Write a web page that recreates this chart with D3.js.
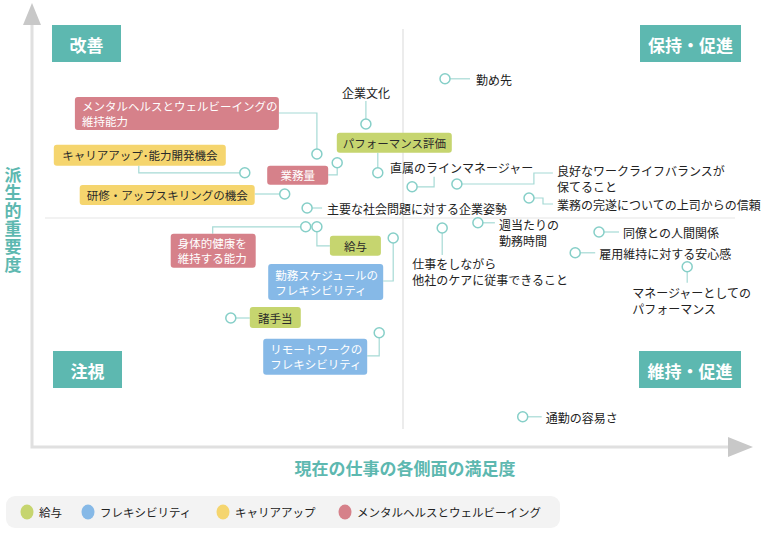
<!DOCTYPE html>
<html>
<head>
<meta charset="utf-8">
<script src="https://cdn.jsdelivr.net/npm/d3@7"></script>
<style>
body { margin: 0; background: #fff; }
text { font-family: "Noto Sans CJK JP", "Noto Sans", sans-serif; }
</style>
</head>
<body>
<div id="container"></div>
<script>
// 職場の各側面: 満足度 (x) と派生的重要度 (y)
var aspects = [
  "メンタルヘルスとウェルビーイングの\n維持能力", "業務量", "キャリアアップ･能力開発機会",
  "研修・アップスキリングの機会", "主要な社会問題に対する企業姿勢", "企業文化",
  "パフォーマンス評価", "勤め先", "直属のラインマネージャー",
  "良好なワークライフバランスが\n保てること", "業務の完遂についての上司からの信頼",
  "仕事をしながら\n他社のケアに従事できること", "週当たりの\n勤務時間", "同僚との人間関係",
  "雇用維持に対する安心感", "マネージャーとしての\nパフォーマンス", "通勤の容易さ",
  "身体的健康を\n維持する能力", "給与", "勤務スケジュールの\nフレキシビリティ",
  "諸手当", "リモートワークの\nフレキシビリティ"
];
var satisfaction = [37.7, 40.6, 27.4, 33.1, 36.3, 44.7, 46.4, 56.0, 51.3, 57.7, 68.0,
                    55.6, 60.7, 78.0, 74.6, 90.6, 67.1, 36.1, 37.7, 48.6, 25.4, 46.6];
var importance   = [66.0, 63.8, 61.3, 56.0, 52.5, 73.5, 61.3, 84.8, 57.8, 58.5, 55.0,
                    47.5, 48.8, 46.5, 41.3, 37.8, 0.3, 47.8, 47.8, 45.0, 25.0, 21.3];
// -1 = カテゴリなし
var group = [3, 3, 2, 2, -1, -1, 0, -1, -1, -1, -1, -1, -1, -1, -1, -1, -1, 3, 0, 1, 0, 1];

var groupNames = ["給与", "フレキシビリティ", "キャリアアップ", "メンタルヘルスとウェルビーイング"];
var quadrantNames = ["改善", "保持・促進", "注視", "維持・促進"];
var xTitle = "現在の仕事の各側面の満足度";
var yTitle = "派生的重要度";

// ラベルの配置 (点からの相対位置) とつなぎ線
var labelPos = [
  {dx:-242, dy:-57, w:204, h:33, path:[[-38,-41],[0,-41],[0,-5]]},
  {dx:-70, dy:3, w:61, h:19, path:[[-9,12],[0,12],[0,5]]},
  {dx:-191, dy:-28, w:172, h:21, path:[[-106,-7],[-106,0],[-5,0]]},
  {dx:-205, dy:-9, w:175, h:20, path:[[-30,0],[-5,0]]},
  {dx:20, dy:0, path:[[5,0],[15,0]]},
  {dx:0, dy:-32, anchor:"middle", path:[[0,-23],[0,-5]]},
  {dx:-41, dy:-40, w:115, h:20, path:[[0,-20],[0,-5]]},
  {dx:31, dy:0, path:[[5,0],[25,0]]},
  {dx:-22, dy:-20, path:[[5,0],[22,0],[22,-10]]},
  {dx:100, dy:-14.5, path:[[5,0],[77,0],[77,-11],[96,-11]]},
  {dx:28, dy:6, path:[[5,0],[14,0],[14,6],[24,6]]},
  {dx:-30, dy:34.5, path:[[0,5],[0,27]]},
  {dx:21, dy:1.5, path:[[5,0],[17,0]]},
  {dx:24, dy:0, path:[[5,0],[20,0]]},
  {dx:24, dy:0, path:[[5,0],[20,0]]},
  {dx:-55, dy:25.5, path:[[0,5],[0,16]]},
  {dx:23, dy:0, path:[[5,0],[19,0]]},
  {dx:-135, dy:7, w:85, h:34, path:[[-93,7],[-93,0],[-5,0]]},
  {dx:13, dy:9, w:51, h:20, path:[[0,5],[0,19],[13,19]]},
  {dx:-125, dy:26, w:115, h:36, path:[[0,5],[0,43],[-10,43]]},
  {dx:19, dy:-11, w:51, h:21, path:[[5,0],[19,0]]},
  {dx:-116, dy:6, w:104, h:36, path:[[0,5],[0,23],[-12,23]]}
];

var boxFill = ["#c6d56f", "#86b9e7", "#f5d56e", "#d6818a"];
var boxText = ["#2a2a2a", "#ffffff", "#2a2a2a", "#ffffff"];
var teal = "#5db8b0";

var svg = d3.select("#container").append("svg")
            .attr("width", 770).attr("height", 540);

var x = d3.scaleLinear().domain([0, 100]).range([53, 753]);
var y = d3.scaleLinear().domain([0, 100]).range([418, 18]);

var data = aspects.map(function(d, i){
  return {name: d, sx: satisfaction[i], imp: importance[i], g: group[i], pos: labelPos[i]};
});

// 軸
var axes = svg.append("g");
axes.append("path").attr("d", "M32,25 V447 H730")
    .attr("fill", "none").attr("stroke", "#e0e0e0").attr("stroke-width", 3);
axes.append("polygon").attr("points", "32,3 23,25 41,25").attr("fill", "#c8c8c8");
axes.append("polygon").attr("points", "753,447 728,437 728,457").attr("fill", "#c8c8c8");

// 象限の区切り
axes.append("line").attr("x1", 45).attr("x2", 735)
    .attr("y1", y(50)).attr("y2", y(50)).attr("stroke", "#e6e6e6").attr("stroke-width", 1.2);
axes.append("line").attr("x1", x(50)).attr("x2", x(50))
    .attr("y1", 29).attr("y2", 429).attr("stroke", "#e6e6e6").attr("stroke-width", 1.5);

// 軸タイトル
svg.append("text").text(xTitle)
   .attr("x", 405).attr("y", 467).attr("text-anchor", "middle")
   .attr("dominant-baseline", "central")
   .attr("fill", teal).attr("font-size", 17).attr("font-weight", "bold");
svg.append("text").text(yTitle)
   .attr("x", 13).attr("y", 220)
   .attr("text-anchor", "middle")
   .style("writing-mode", "vertical-rl")
   .style("text-orientation", "upright")
   .style("letter-spacing", "1px")
   .attr("fill", teal).attr("font-size", 17).attr("font-weight", "bold");

// 象限ラベル
var quadBoxes = [
  {x: 52, y: 25, w: 69}, {x: 640, y: 25, w: 101},
  {x: 53, y: 351, w: 69}, {x: 639, y: 351, w: 102}
];
var quads = svg.append("g").selectAll("g").data(quadrantNames)
   .enter().append("g");
quads.append("rect")
     .attr("x", function(d, i){ return quadBoxes[i].x; })
     .attr("y", function(d, i){ return quadBoxes[i].y; })
     .attr("width", function(d, i){ return quadBoxes[i].w; })
     .attr("height", 37).attr("fill", teal);
quads.append("text").text(function(d){ return d; })
     .attr("x", function(d, i){ return quadBoxes[i].x + quadBoxes[i].w / 2; })
     .attr("y", function(d, i){ return quadBoxes[i].y + 19; })
     .attr("text-anchor", "middle").attr("dominant-baseline", "central")
     .attr("fill", "#fff").attr("font-size", 17).attr("font-weight", "bold");

// つなぎ線
svg.append("g").selectAll("path").data(data)
   .enter().append("path")
   .attr("d", function(d){
      var cx = x(d.sx), cy = y(d.imp);
      return "M" + d.pos.path.map(function(p){ return (cx + p[0]) + "," + (cy + p[1]); }).join(" L");
   })
   .attr("fill", "none").attr("stroke", "#a6dad5").attr("stroke-width", 1.2);

// ラベル
var labels = svg.append("g").selectAll("g").data(data)
   .enter().append("g");

labels.filter(function(d){ return d.g >= 0; })
   .append("rect")
   .attr("x", function(d){ return x(d.sx) + d.pos.dx; })
   .attr("y", function(d){ return y(d.imp) + d.pos.dy; })
   .attr("width", function(d){ return d.pos.w; })
   .attr("height", function(d){ return d.pos.h; })
   .attr("rx", 3)
   .attr("fill", function(d){ return boxFill[d.g]; });

labels.each(function(d){
  var lines = d.name.split("\n");
  var g = d3.select(this);
  var t = g.append("text").attr("dominant-baseline", "central");
  if (d.g >= 0) {
    var multi = lines.length > 1;
    var bx = x(d.sx) + d.pos.dx, by = y(d.imp) + d.pos.dy;
    var lh = 15;
    var top = by + d.pos.h / 2 - (lines.length - 1) * lh / 2;
    t.attr("font-size", 11.5).attr("fill", boxText[d.g])
     .attr("text-anchor", multi ? "start" : "middle");
    lines.forEach(function(l, k){
      t.append("tspan").text(l)
       .attr("x", multi ? bx + 7 : bx + d.pos.w / 2)
       .attr("y", top + k * lh);
    });
  } else {
    t.attr("font-size", 12).attr("fill", "#222")
     .attr("text-anchor", d.pos.anchor || "start");
    lines.forEach(function(l, k){
      t.append("tspan").text(l)
       .attr("x", x(d.sx) + d.pos.dx)
       .attr("y", y(d.imp) + d.pos.dy + k * 16);
    });
  }
});

// 点
svg.append("g").selectAll("circle").data(data)
   .enter().append("circle")
   .attr("cx", function(d){ return x(d.sx); })
   .attr("cy", function(d){ return y(d.imp); })
   .attr("r", 5)
   .attr("fill", "#fff").attr("stroke", "#86cfc8").attr("stroke-width", 1.5);

// 凡例
var legend = svg.append("g");
legend.append("rect").attr("x", 6).attr("y", 496).attr("width", 554).attr("height", 32)
      .attr("rx", 9).attr("fill", "#f3f3f3");
var legendX = [27, 88, 223, 345];
var items = legend.selectAll("g.item").data(groupNames)
      .enter().append("g").attr("class", "item");
items.append("ellipse")
     .attr("cx", function(d, i){ return legendX[i]; }).attr("cy", 512)
     .attr("rx", 6.5).attr("ry", 7.5)
     .attr("fill", function(d, i){ return boxFill[i]; });
items.append("text").text(function(d){ return d; })
     .attr("x", function(d, i){ return legendX[i] + 12; }).attr("y", 512)
     .attr("dominant-baseline", "central")
     .attr("font-size", 11.5).attr("fill", "#222");
</script>
</body>
</html>
